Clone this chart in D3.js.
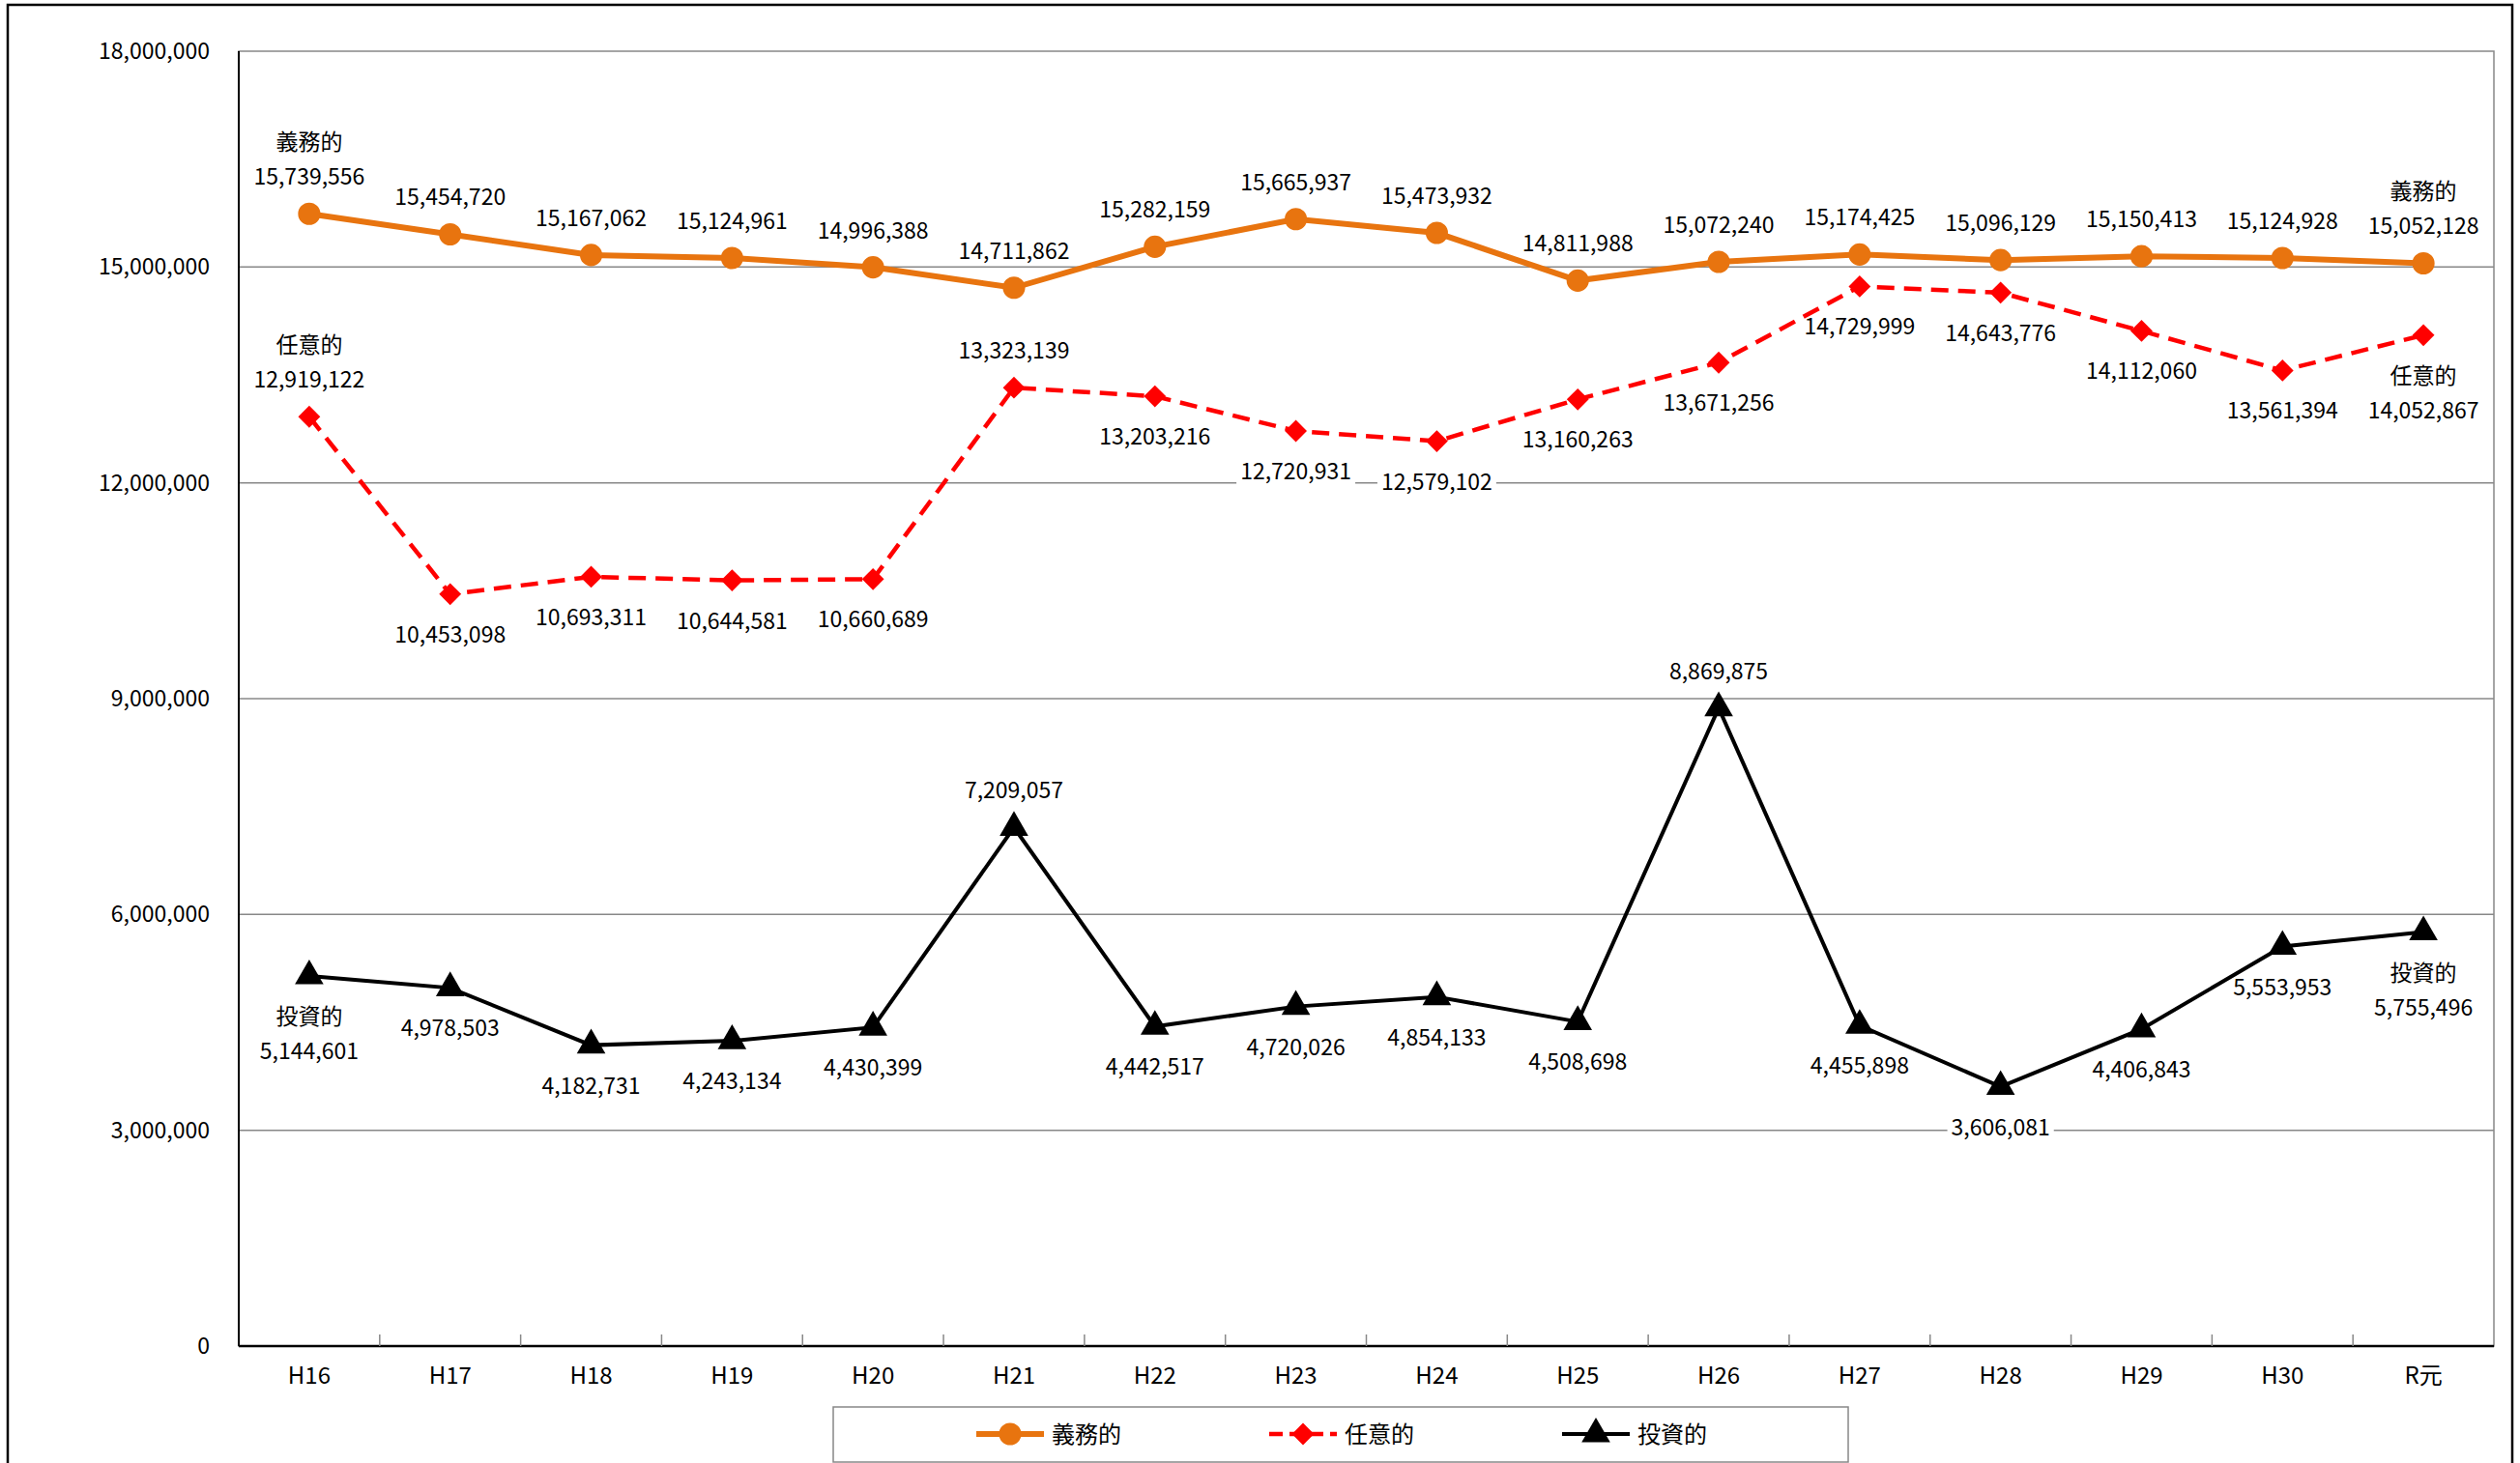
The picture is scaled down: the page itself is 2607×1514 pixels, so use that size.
<!DOCTYPE html>
<html><head><meta charset="utf-8">
<script src="https://cdn.jsdelivr.net/npm/d3@7"></script>
<style>body{margin:0;background:#fff}svg{display:block}text{font-family:"Noto Sans CJK JP",sans-serif}</style>
</head><body><svg id="c" width="2607" height="1514"></svg>
<script>
const categories = ["H16","H17","H18","H19","H20","H21","H22","H23","H24","H25","H26","H27","H28","H29","H30","R元"];
const gimu = [15739556,15454720,15167062,15124961,14996388,14711862,15282159,15665937,15473932,14811988,15072240,15174425,15096129,15150413,15124928,15052128];
const nini = [12919122,10453098,10693311,10644581,10660689,13323139,13203216,12720931,12579102,13160263,13671256,14729999,14643776,14112060,13561394,14052867];
const toshi = [5144601,4978503,4182731,4243134,4430399,7209057,4442517,4720026,4854133,4508698,8869875,4455898,3606081,4406843,5553953,5755496];
const yTicks = [0,3000000,6000000,9000000,12000000,15000000,18000000];
// label side: 1 above, -1 below
const gimuSide = Array(16).fill(1);
const niniSide = [1,-1,-1,-1,-1,1,-1,-1,-1,-1,-1,-1,-1,-1,-1,-1];
const toshiSide = [-1,-1,-1,-1,-1,1,-1,-1,-1,-1,1,-1,-1,-1,-1,-1];

const diamond = {draw(ctx,size){const r=Math.sqrt(size/2);ctx.moveTo(0,-r);ctx.lineTo(r,0);ctx.lineTo(0,r);ctx.lineTo(-r,0);ctx.closePath();}};
const series = [
  {name:"義務的", values:gimu, side:gimuSide, color:"#e8740f", width:6, dash:null, shape:d3.symbolCircle, size:420},
  {name:"任意的", values:nini, side:niniSide, color:"#ff0000", width:4.5, dash:"18,10", shape:diamond, size:260},
  {name:"投資的", values:toshi, side:toshiSide, color:"#000000", width:4, dash:null, shape:d3.symbolTriangle, size:380}
];

const svg = d3.select("#c");
const L=247,R=2580,T=53,B=1393;
svg.append("rect").attr("x",8).attr("y",5).attr("width",2591).attr("height",1520).attr("fill","none").attr("stroke","#000").attr("stroke-width",2.5);

const x = d3.scaleBand().domain(categories).range([L,R]);
const y = d3.scaleLinear().domain([0,18000000]).range([B,T]);
const fmt = d3.format(",");

const g = svg.append("g");
g.selectAll(".grid").data(yTicks.slice(1,-1)).join("line").attr("x1",L).attr("x2",R)
  .attr("y1",d=>y(d)).attr("y2",d=>y(d)).attr("stroke","#888").attr("stroke-width",1.5);
g.append("rect").attr("x",L).attr("y",T).attr("width",R-L).attr("height",B-T).attr("fill","none").attr("stroke","#888").attr("stroke-width",1.5);
g.append("line").attr("x1",L).attr("x2",R).attr("y1",B).attr("y2",B).attr("stroke","#000").attr("stroke-width",2.5);
g.append("line").attr("x1",L).attr("x2",L).attr("y1",T).attr("y2",B).attr("stroke","#000").attr("stroke-width",2);

const yAxis = g.append("g").attr("transform",`translate(${L},0)`).call(d3.axisLeft(y).tickValues(yTicks).tickFormat(fmt).tickSize(0).tickPadding(30));
yAxis.select(".domain").remove();
yAxis.selectAll("text").attr("font-size",23).attr("font-family","Noto Sans CJK JP");
const xAxis = g.append("g").attr("transform",`translate(0,${B})`).call(d3.axisBottom(x).tickSize(0).tickPadding(22));
xAxis.select(".domain").remove();
xAxis.selectAll("text").attr("font-size",24).attr("font-family","Noto Sans CJK JP");
g.selectAll(".xt").data(categories.slice(1)).join("line").attr("x1",d=>x(d)).attr("x2",d=>x(d))
  .attr("y1",B).attr("y2",B-12).attr("stroke","#888").attr("stroke-width",1.5);

const cx = d => x(d)+x.bandwidth()/2;
const bgLayer = svg.append("g");
const markLayer = svg.append("g");
const lg = svg.append("g");
const line = d3.line().x((d,i)=>cx(categories[i])).y(d=>y(d));
series.forEach(s=>{
  markLayer.append("path").datum(s.values).attr("d",line).attr("fill","none").attr("stroke",s.color)
    .attr("stroke-width",s.width).attr("stroke-dasharray",s.dash);
  markLayer.selectAll(null).data(s.values).join("path")
    .attr("transform",(d,i)=>`translate(${cx(categories[i])},${y(d)})`)
    .attr("d",d3.symbol(s.shape,s.size)).attr("fill",s.color);
});
series.forEach(s=>{
  s.values.forEach((v,i)=>{
    const px=cx(categories[i]), py=y(v), side=s.side[i];
    const lines=[fmt(v)];
    if(i===0||i===15) lines.unshift(s.name);
    const n=lines.length;
    lines.forEach((t,k)=>{
      let ty = side>0 ? py-30-(n-1-k)*36 : py+50+k*36;
      const tx = lg.append("text").attr("x",px).attr("y",ty).attr("text-anchor","middle")
        .attr("font-size",23).text(t);
      const bb = tx.node().getBBox();
      bgLayer.append("rect").attr("x",bb.x-4).attr("y",bb.y).attr("width",bb.width+8).attr("height",bb.height).attr("fill","#fff");
    });
  });
});

// legend
const leg = svg.append("g");
leg.append("rect").attr("x",862).attr("y",1456).attr("width",1050).attr("height",57).attr("fill","#fff").attr("stroke","#888").attr("stroke-width",1.5);
series.forEach((s,i)=>{
  const lx=1010+i*303, ly=1484;
  leg.append("line").attr("x1",lx).attr("x2",lx+70).attr("y1",ly).attr("y2",ly).attr("stroke",s.color)
    .attr("stroke-width",s.width).attr("stroke-dasharray",s.dash?"14,7":null);
  leg.append("path").attr("transform",`translate(${lx+35},${ly})`).attr("d",d3.symbol(s.shape,s.size)).attr("fill",s.color);
  leg.append("text").attr("x",lx+78).attr("y",ly+9).attr("font-size",24).text(s.name);
});
</script></body></html>
